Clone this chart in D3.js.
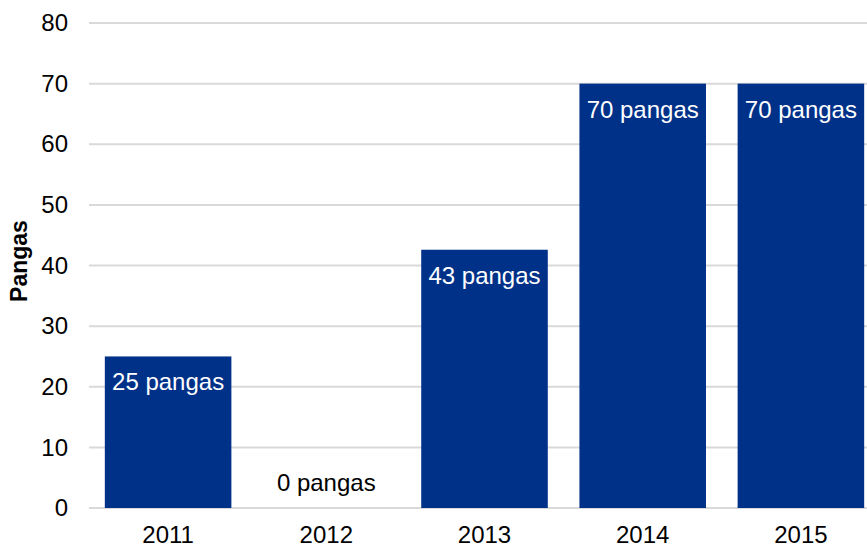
<!DOCTYPE html>
<html><head><meta charset="utf-8">
<script src="https://cdn.jsdelivr.net/npm/d3@7"></script>
<style>body{margin:0;background:#fff}svg{display:block;font-family:Arial,"Liberation Sans",sans-serif}</style>
</head><body>
<svg id="c" width="867" height="546"></svg>
<script>
const years = ["2011","2012","2013","2014","2015"];
const pangas = [25, 0, 42.6, 70, 70];
const labels = ["25 pangas","0 pangas","43 pangas","70 pangas","70 pangas"];
const yTicks = [0,10,20,30,40,50,60,70,80];
const yTitle = "Pangas";

const FS = 24;
const svg = d3.select("#c");
const x = d3.scaleBand().domain(years).range([89, 880]).paddingInner(0.2).paddingOuter(0.1);
const y = d3.scaleLinear().domain([0, 80]).range([508, 23]);

svg.append("g").selectAll("line").data(yTicks).join("line")
  .attr("x1", 89).attr("x2", 880)
  .attr("y1", d => y(d)).attr("y2", d => y(d))
  .attr("stroke", "#d9d9d9").attr("stroke-width", 2);

const ya = svg.append("g").attr("transform", "translate(68,0)")
  .call(d3.axisLeft(y).tickValues(yTicks).tickSize(0).tickPadding(0));
ya.select(".domain").remove();
ya.selectAll("text").attr("font-size", FS).attr("fill", "#000").attr("font-family", "Arial, Liberation Sans, sans-serif");

svg.append("g").selectAll("rect").data(years).join("rect")
  .attr("x", d => x(d)).attr("width", x.bandwidth())
  .attr("y", (d, i) => y(pangas[i])).attr("height", (d, i) => y(0) - y(pangas[i]))
  .attr("fill", "#003189");

svg.append("g").selectAll("text").data(years).join("text")
  .attr("x", d => x(d) + x.bandwidth() / 2)
  .attr("y", (d, i) => pangas[i] > 0 ? y(pangas[i]) + 34 : y(0) - 17)
  .attr("text-anchor", "middle").attr("font-size", FS)
  .attr("fill", (d, i) => pangas[i] > 0 ? "#fff" : "#000")
  .text((d, i) => labels[i]);

const xa = svg.append("g").attr("transform", "translate(0,508)")
  .call(d3.axisBottom(x).tickSize(0).tickPadding(18));
xa.select(".domain").remove();
xa.selectAll("text").attr("font-size", FS).attr("fill", "#000").attr("font-family", "Arial, Liberation Sans, sans-serif");

svg.append("text").attr("transform", "translate(27,261) rotate(-90)")
  .attr("text-anchor", "middle").attr("font-size", 23).attr("font-weight", "bold")
  .text(yTitle);
</script>
</body></html>
